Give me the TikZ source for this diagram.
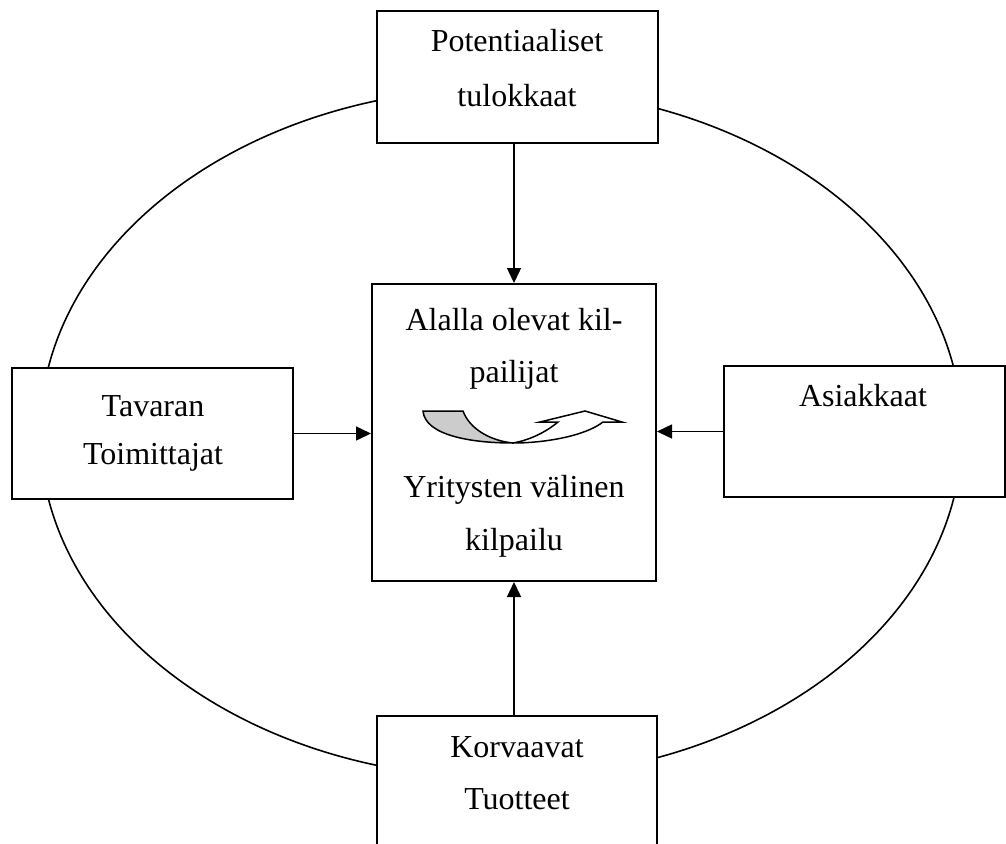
\documentclass[tikz,border=0pt]{standalone}
\usepackage{fontspec}
\setmainfont{Liberation Serif}
\usetikzlibrary{arrows.meta}
\begin{document}
\begin{tikzpicture}[x=1pt,y=-1pt,
  box/.style={draw,line width=2pt,fill=white,inner sep=0pt},
  txt/.style={anchor=base,inner sep=0pt,font=\fontsize{32}{54}\selectfont},
  arr/.style={line width=1.5pt,-{Triangle[length=15pt,width=14pt]}},
  curv/.style={line width=1.5pt,line join=miter}]
\useasboundingbox (0,0) rectangle (1006,843);
\clip (0,0) rectangle (1006,843);
\draw[line width=1.6pt] (501,433) ellipse [x radius=461pt, y radius=345pt];
% boxes
\node[box,minimum width=281pt,minimum height=132pt] (top) at (517.5,77) {};
\node[box,minimum width=284pt,minimum height=297pt] (cbox) at (514,432.5) {};
\node[box,minimum width=281pt,minimum height=131pt] (left) at (152.5,433.5) {};
\node[box,minimum width=281pt,minimum height=131pt] (right) at (864.5,431.5) {};
\node[box,minimum width=280pt,minimum height=200pt,anchor=north] (bot) at (517,715) {};
% arrows
\draw[arr] (cbox.north |- top.south) -- (cbox.north);
\draw[arr] (left.east) -- (left.east -| cbox.west);
\draw[arr] (right.west) -- (right.west -| cbox.east);
\draw[arr] (cbox.south |- bot.north) -- (cbox.south);
% curved arrow
\coordinate (cA) at (423,411);
\coordinate (cB) at (463,411);
\coordinate (cL) at (513,443);
\filldraw[curv,fill=gray!40] (cA) -- (cB) .. controls (470,430) and (492,441) .. (cL)
  .. controls (470,443) and (425,435) .. (cA) -- cycle;
\draw[curv,fill=white] (cL) .. controls (545,443) and (585,436) .. (603,422) -- (622,422) -- (585,411)
  -- (540,422) -- (558,422) .. controls (546,432) and (530,440) .. (cL);
% texts
\node[txt] (t1) at (517,52) {Potentiaaliset};
\node[txt] (t2) at (517,106) {tulokkaat};
\node[txt] (c1) at (514,330) {Alalla olevat kil-};
\node[txt] (c2) at (514,382) {pailijat};
\node[txt] (c3) at (514,497) {Yritysten välinen};
\node[txt] (c4) at (514,550) {kilpailu};
\node[txt] (l1) at (153,416) {Tavaran};
\node[txt] (l2) at (153,464) {Toimittajat};
\node[txt] (r1) at (863,406) {Asiakkaat};
\node[txt] (b1) at (517,757) {Korvaavat};
\node[txt] (b2) at (517,809) {Tuotteet};
\end{tikzpicture}
\end{document}
